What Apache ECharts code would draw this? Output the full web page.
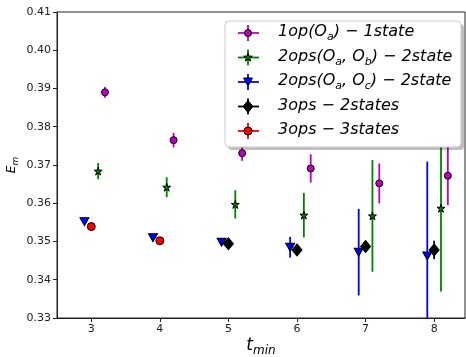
<!DOCTYPE html>
<html><head><meta charset="utf-8">
<script src="https://cdn.jsdelivr.net/npm/echarts@6/dist/echarts.min.js"></script>
<style>html,body{margin:0;padding:0;background:#fff}#c{width:466px;height:357px}</style>
</head><body><div id="c"></div>
<script>
// ---- data ----
const tmin = [3, 4, 5, 6, 7, 8];
const tminB = [5, 6, 7, 8];
const tminR = [3, 4];
const E1 = [0.3890, 0.3765, 0.3731, 0.3691, 0.3652, 0.3672];
const err1 = [0.0014, 0.0019, 0.0020, 0.0037, 0.0052, 0.0077];
const E2 = [0.3684, 0.3642, 0.3597, 0.3569, 0.3567, 0.3587];
const err2 = [0.0021, 0.0026, 0.0037, 0.0058, 0.0146, 0.0218];
const E3 = [0.3552, 0.3510, 0.3498, 0.3485, 0.3472, 0.3462];
const err3 = [0.0003, 0.0003, 0.0004, 0.0027, 0.0113, 0.0247];
const E4 = [0.3494, 0.3478, 0.3487, 0.3478];
const err4 = [0.0004, 0.0005, 0.0008, 0.0024];
const E5 = [0.3539, 0.3502];
const err5 = [0.0004, 0.0004];
const yTicks = [0.33, 0.34, 0.35, 0.36, 0.37, 0.38, 0.39, 0.40, 0.41];
const xTicks = [3, 4, 5, 6, 7, 8];
const legendLabels = [
  ['1op(O', 'a', ') − 1state'],
  ['2ops(O', 'a', ', O', 'b', ') − 2state'],
  ['2ops(O', 'a', ', O', 'c', ') − 2state'],
  ['3ops − 2states'],
  ['3ops − 3states']
];

// ---- styling ----
const FONT = 'DejaVu Sans';
const STAR = 'path://M0,-1 L0.2245,-0.309 L0.951,-0.309 L0.363,0.118 L0.588,0.809 L0,0.382 L-0.588,0.809 L-0.363,0.118 L-0.951,-0.309 L-0.2245,-0.309 Z';
const specs = [
  {t: tmin, E: E1, err: err1, shift: 0.2, color: '#bf00bf', symbol: 'circle', size: 7, rot: 0},
  {t: tmin, E: E2, err: err2, shift: 0.1, color: '#008000', symbol: STAR, size: 8, rot: 0},
  {t: tmin, E: E3, err: err3, shift: -0.1, color: '#0000ff', symbol: 'triangle', size: [9, 8], rot: 180},
  {t: tminB, E: E4, err: err4, shift: 0, color: '#000000', symbol: 'diamond', size: [10, 12], rot: 0},
  {t: tminR, E: E5, err: err5, shift: 0, color: '#ff0000', symbol: 'circle', size: 8, rot: 0}
];

const series = [];
specs.forEach((s, k) => {
  const bars = s.t.map((t, i) => [t + s.shift, s.E[i] - s.err[i], s.E[i] + s.err[i]]);
  const pts = s.t.map((t, i) => [t + s.shift, s.E[i]]);
  series.push({
    type: 'custom', z: 2 + k * 2, silent: true, clip: true,
    data: bars,
    renderItem: function (params, api) {
      const x = api.value(0);
      const p1 = api.coord([x, api.value(1)]);
      const p2 = api.coord([x, api.value(2)]);
      const cs = params.coordSys;
      const y1 = Math.min(Math.max(p1[1], cs.y), cs.y + cs.height);
      const y2 = Math.min(Math.max(p2[1], cs.y), cs.y + cs.height);
      return {type: 'line', shape: {x1: p1[0], y1: y1, x2: p2[0], y2: y2},
              style: {stroke: s.color, lineWidth: 1.8}};
    }
  });
  series.push({
    type: 'scatter', z: 3 + k * 2, silent: true,
    data: pts, symbol: s.symbol, symbolSize: s.size, symbolRotate: s.rot,
    itemStyle: {color: s.color, borderColor: '#000', borderWidth: 1, opacity: 1}
  });
});

// ---- legend (graphic) ----
const LX = 225, LY = 21, LW = 236, LH = 126, ROW0 = 33, ROWH = 24.5;
const gfx = [];
gfx.push({type: 'rect', shape: {x: LX + 3, y: LY + 3, width: LW, height: LH, r: 4}, style: {fill: 'rgba(0,0,0,0.25)'}, z: 100});
gfx.push({type: 'rect', shape: {x: LX, y: LY, width: LW, height: LH, r: 4}, style: {fill: '#fff', stroke: '#cccccc', lineWidth: 1}, z: 101});
function starPts(cx, cy, R) {
  const pts = [];
  for (let i = 0; i < 10; i++) {
    const r = i % 2 === 0 ? R : R * 0.382;
    const a = -Math.PI / 2 + i * Math.PI / 5;
    pts.push([cx + r * Math.cos(a), cy + r * Math.sin(a)]);
  }
  return pts;
}
specs.forEach((s, k) => {
  const cy = ROW0 + k * ROWH, cx = 248;
  gfx.push({type: 'line', shape: {x1: 238, y1: cy, x2: 259, y2: cy}, style: {stroke: s.color, lineWidth: 1.8}, z: 102});
  gfx.push({type: 'line', shape: {x1: cx, y1: cy - 8, x2: cx, y2: cy + 8}, style: {stroke: s.color, lineWidth: 1.8}, z: 102});
  const st = {fill: s.color, stroke: '#000', lineWidth: 1};
  let m;
  if (k === 0) m = {type: 'circle', shape: {cx: cx, cy: cy, r: 3.5}, style: st};
  else if (k === 1) m = {type: 'polygon', shape: {points: starPts(cx, cy, 4.5)}, style: st};
  else if (k === 2) m = {type: 'polygon', shape: {points: [[cx - 4.5, cy - 4], [cx + 4.5, cy - 4], [cx, cy + 4]]}, style: st};
  else if (k === 3) m = {type: 'polygon', shape: {points: [[cx, cy - 6], [cx + 5, cy], [cx, cy + 6], [cx - 5, cy]]}, style: st};
  else m = {type: 'circle', shape: {cx: cx, cy: cy, r: 4}, style: st};
  m.z = 103;
  gfx.push(m);
  const parts = legendLabels[k];
  const txt = parts.map((p, i) => (i % 2 === 0 ? '{m|' + p + '}' : '{s|' + p + '}')).join('');
  gfx.push({
    type: 'text', x: 278, y: cy, z: 104,
    style: {
      text: txt, verticalAlign: 'middle', align: 'left',
      rich: {
        m: {fontFamily: FONT, fontStyle: 'italic', fontSize: 16, color: '#000', verticalAlign: 'bottom', lineHeight: 20, padding: [0, 0, 3, 0]},
        s: {fontFamily: FONT, fontStyle: 'italic', fontSize: 11, color: '#000', verticalAlign: 'bottom', lineHeight: 13}
      }
    }
  });
});

const chart = echarts.init(document.getElementById('c'), null, {renderer: 'canvas'});
chart.setOption({
  animation: false,
  backgroundColor: '#fff',
  grid: {left: 57, right: 1, top: 12, bottom: 39, containLabel: false, outerBoundsMode: 'none',
         show: true, borderColor: '#222', borderWidth: 1, backgroundColor: 'transparent'},
  xAxis: {
    type: 'value', min: 2.5, max: 8.45,
    name: '{i|t}{s|min}', nameLocation: 'middle', nameGap: 19, nameMoveOverlap: false,
    nameTextStyle: {rich: {
      i: {fontFamily: FONT, fontStyle: 'italic', fontSize: 17, color: '#000', verticalAlign: 'bottom', lineHeight: 20, padding: [0, 0, 3, 0]},
      s: {fontFamily: FONT, fontStyle: 'italic', fontSize: 12, color: '#000', verticalAlign: 'bottom', lineHeight: 14}
    }},
    splitLine: {show: false},
    axisLine: {show: true, onZero: false, lineStyle: {color: '#222', width: 1}},
    axisTick: {show: true, length: 4, customValues: xTicks, lineStyle: {color: '#222'}},
    axisLabel: {customValues: xTicks, fontFamily: FONT, fontSize: 11, color: '#222', margin: 6, formatter: v => String(v)}
  },
  yAxis: {
    type: 'value', min: 0.33, max: 0.41,
    name: '{i|E}{s|m}', nameLocation: 'middle', nameGap: 37, nameRotate: 90, nameMoveOverlap: false,
    nameTextStyle: {rich: {
      i: {fontFamily: FONT, fontStyle: 'italic', fontSize: 12, color: '#000', verticalAlign: 'bottom', lineHeight: 14, padding: [0, 0, 2, 0]},
      s: {fontFamily: FONT, fontStyle: 'italic', fontSize: 9, color: '#000', verticalAlign: 'bottom', lineHeight: 11}
    }},
    splitLine: {show: false},
    axisLine: {show: true, onZero: false, lineStyle: {color: '#222', width: 1}},
    axisTick: {show: true, length: 4, customValues: yTicks, lineStyle: {color: '#222'}},
    axisLabel: {customValues: yTicks, fontFamily: FONT, fontSize: 11, color: '#222', margin: 6, formatter: v => v.toFixed(2)}
  },
  series: series,
  graphic: gfx
});
</script></body></html>
